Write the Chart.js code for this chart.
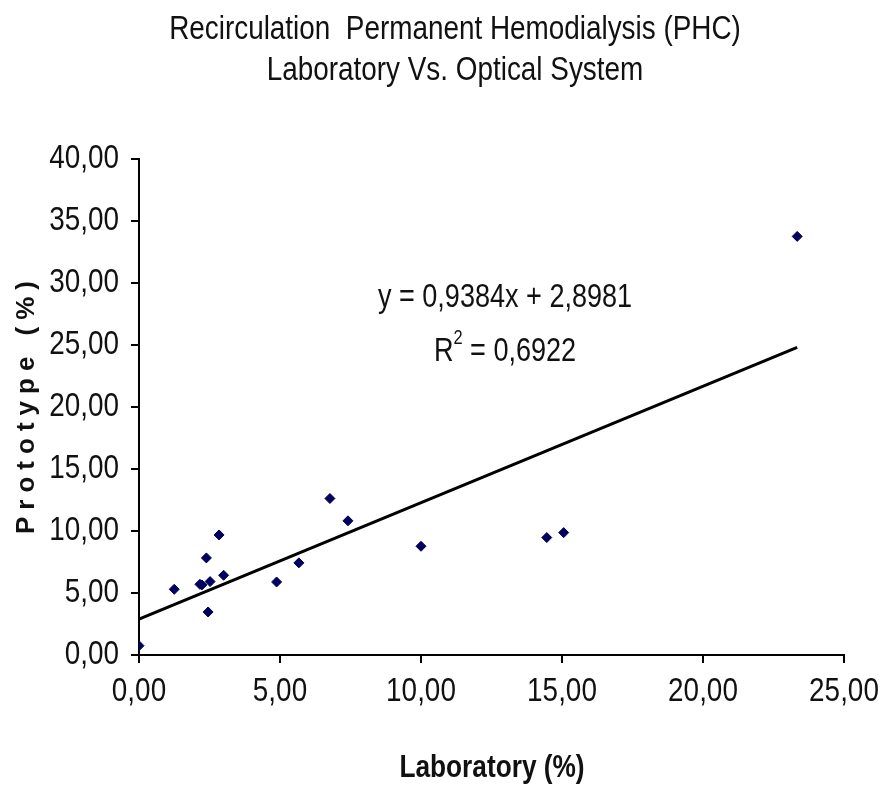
<!DOCTYPE html>
<html>
<head>
<meta charset="utf-8">
<script src="https://cdn.jsdelivr.net/npm/chart.js@4.4.1/dist/chart.umd.min.js"></script>
<style>
  html, body { margin: 0; padding: 0; background: #fff; }
  #wrap { width: 883px; height: 790px; }
</style>
</head>
<body>
<div id="wrap"><canvas id="myChart" width="883" height="790"></canvas></div>
<script>
// values
const laboratory = [0.0, 1.25, 2.16, 2.23, 2.39, 2.52, 2.45, 2.84, 3.0, 4.88, 5.67, 6.77, 7.41, 10.0, 14.46, 15.06, 23.34];
const prototype  = [0.75, 5.30, 5.70, 5.65, 7.83, 5.92, 3.47, 9.68, 6.43, 5.89, 7.43, 12.62, 10.82, 8.77, 9.47, 9.87, 33.76];

const slope = 0.9384;
const intercept = 2.8981;
const equationText = ['y = 0,9384x + 2,8981', 'R', '2', ' = 0,6922'];

const titleLines = ['Recirculation  Permanent Hemodialysis (PHC)', 'Laboratory Vs. Optical System'];
const xTitle = 'Laboratory (%)';
const yTitle = 'Prototype (%)';

const points = laboratory.map((v, i) => ({x: v, y: prototype[i]}));
const xmax = Math.max(...laboratory);
const trend = [{x: 0, y: intercept}, {x: xmax, y: slope * xmax + intercept}];

const FONT = '"Liberation Sans", Arial, sans-serif';
const SQUEEZE = 0.82; // the original text is narrow (Arial Narrow look)

function fmt(v){
    return v.toFixed(2).replace('.', ',');
}

// draws horizontally squeezed text
function narrowText(ctx, text, x, y, font, align){
    ctx.save();
    ctx.translate(x, y);
    ctx.scale(SQUEEZE, 1);
    ctx.font = font;
    ctx.textAlign = align || 'center';
    ctx.textBaseline = 'middle';
    ctx.fillText(text, 0, 0);
    ctx.restore();
}

function textWidth(ctx, text, font){
    ctx.save();
    ctx.font = font;
    const w = ctx.measureText(text).width * SQUEEZE;
    ctx.restore();
    return w;
}

const textPlugin = {
    id: 'texts',
    afterDraw(chart){
        const ctx = chart.ctx;
        const xs = chart.scales.x, ys = chart.scales.y;
        ctx.save();
        ctx.fillStyle = '#111';

        // main title
        narrowText(ctx, titleLines[0], 455, 30, '34px ' + FONT);
        narrowText(ctx, titleLines[1], 455, 71, '34px ' + FONT);

        // tick labels, placed with the scales
        ys.ticks.forEach(t => {
            narrowText(ctx, fmt(t.value), 119, ys.getPixelForValue(t.value), '34px ' + FONT, 'right');
        });
        xs.ticks.forEach(t => {
            narrowText(ctx, fmt(t.value), xs.getPixelForValue(t.value), 692, '34px ' + FONT, 'center');
        });

        // regression equation
        const ex = xs.getPixelForValue(12.98);
        narrowText(ctx, equationText[0], ex, ys.getPixelForValue(28.8), '33px ' + FONT);
        const ry = ys.getPixelForValue(24.45);
        const big = '33px ' + FONT, small = '20px ' + FONT;
        const w1 = textWidth(ctx, equationText[1], big);
        const w2 = textWidth(ctx, equationText[2], small);
        const w3 = textWidth(ctx, equationText[3], big);
        const sx = ex - (w1 + w2 + w3) / 2;
        narrowText(ctx, equationText[1], sx, ry, big, 'left');
        narrowText(ctx, equationText[2], sx + w1, ry - 13, small, 'left');
        narrowText(ctx, equationText[3], sx + w1 + w2, ry, big, 'left');

        // axis titles
        narrowText(ctx, xTitle, 492, 768, 'bold 32px ' + FONT);
        ctx.translate(27, 404);
        ctx.rotate(-Math.PI / 2);
        ctx.letterSpacing = '7px';
        ctx.font = 'bold 26px ' + FONT;
        ctx.textAlign = 'center';
        ctx.textBaseline = 'middle';
        ctx.fillText(yTitle, 0, 0);
        ctx.restore();
    }
};

const ctx = document.getElementById('myChart');
const myChart = new Chart(ctx, {
    type: 'scatter',
    data: {
        datasets: [{
            label: 'Prototype',
            data: points,
            pointStyle: 'rectRot',
            pointRadius: 5,
            backgroundColor: '#00005e',
            borderColor: '#00005e',
            borderWidth: 1,
        }, {
            type: 'line',
            label: 'Trend',
            data: trend,
            borderColor: '#000',
            borderWidth: 3,
            pointRadius: 0,
            fill: false,
        }]
    },
    options: {
        responsive: false,
        animation: false,
        layout: { padding: { left: 0, right: 39, top: 159, bottom: 0 } },
        plugins: {
            legend: { display: false },
            tooltip: { enabled: false },
            title: { display: false }
        },
        scales: {
            x: {
                type: 'linear',
                min: 0, max: 25,
                afterFit(scale){ scale.height = 135; },
                ticks: { stepSize: 5, display: false },
                grid: { drawOnChartArea: false, tickLength: 8, color: '#000', lineWidth: 2 },
                border: { color: '#000', width: 2 }
            },
            y: {
                type: 'linear',
                min: 0, max: 40,
                afterFit(scale){ scale.width = 139; },
                ticks: { stepSize: 5, display: false },
                grid: { drawOnChartArea: false, tickLength: 8, color: '#000', lineWidth: 2 },
                border: { color: '#000', width: 2 }
            }
        }
    },
    plugins: [textPlugin]
});
</script>
</body>
</html>
